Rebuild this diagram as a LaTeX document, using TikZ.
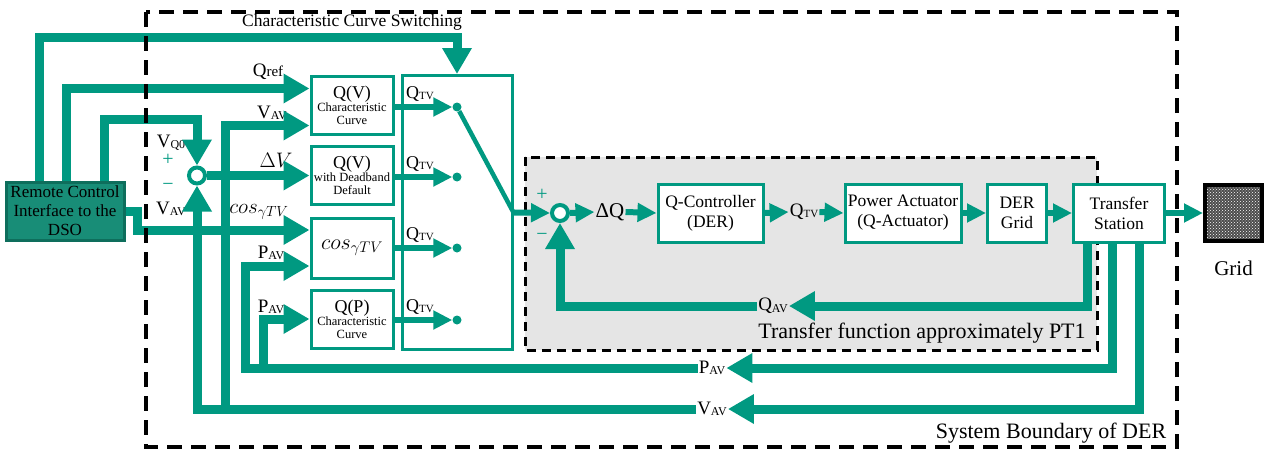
\documentclass[tikz,border=0pt]{standalone}
\usepackage{fix-cm}
\usepackage{fontspec}
\setmainfont{Liberation Serif}
\usetikzlibrary{arrows.meta,patterns}
\definecolor{der-teal}{RGB}{0,153,129}
\definecolor{remote-fill}{RGB}{24,141,119}
\definecolor{remote-line}{RGB}{14,110,92}
\newcommand{\lowsub}[1]{\raisebox{-1.5pt}{\fontsize{12}{12}\selectfont #1}}
\newcommand{\tinysub}[1]{\raisebox{-1pt}{\fontsize{11}{11}\selectfont #1}}
\tikzset{
    teal-box/.style = {draw=der-teal, fill=white, line width=3pt, rectangle, inner sep=0pt, align=center},
    remote-box/.style = {draw=remote-line, fill=remote-fill, line width=3pt, rectangle, inner sep=0pt, align=center, font=\fontsize{17}{19}\selectfont},
    chain-box/.style = {teal-box, minimum height=58pt, font=\fontsize{17.5}{20}\selectfont},
    curve-box/.style = {teal-box, minimum width=82pt, minimum height=58pt, font=\fontsize{12.5}{13}\selectfont},
    sum-node/.style = {circle, draw=der-teal, fill=white, line width=4pt, minimum size=16pt, inner sep=0pt},
    sw-dot/.style = {circle, fill=der-teal, minimum size=9pt, inner sep=0pt},
    band/.style = {draw=der-teal, line width=9pt},
    band-arrow/.style = {band, -{Triangle[width=28pt,length=26pt]}},
    thin-arrow/.style = {draw=der-teal, line width=6pt, -{Triangle[width=18pt,length=19pt]}},
    sig-label/.style = {inner sep=1pt, font=\fontsize{19}{20}\selectfont},
    qtv-label/.style = {inner sep=0pt, font=\fontsize{18}{18}\selectfont},
    sign-label/.style = {text=der-teal, inner sep=0pt, font=\fontsize{20}{20}\selectfont},
    area-label/.style = {inner sep=0pt, font=\fontsize{22}{22}\selectfont},
}

\begin{document}
\begin{tikzpicture}[x=1pt,y=-1pt]
\useasboundingbox (0,0) rectangle (1269,455);
% shaded PT1 part
\fill[black!10] (525,157) rectangle (1097,350);
\draw[line width=3pt, dash pattern=on 9pt off 6pt] (525,157) rectangle (1097,350);

% blocks
\node[remote-box, minimum width=118pt, minimum height=58pt] (remote) at (65,211) {Remote Control\\Interface to the\\DSO};
\node[curve-box] (qv) at (352,105.5) {{\fontsize{18}{18}\selectfont Q(V)}\\Characteristic\\Curve};
\node[curve-box] (qvd) at (352,175.5) {{\fontsize{18}{18}\selectfont Q(V)}\\with Deadband\\Default};
\node[curve-box, minimum height=60pt] (cosb) at (352,248) {\fontsize{22}{22}\selectfont $cos_{\gamma TV}$};
\node[curve-box] (qp) at (352,319) {{\fontsize{18}{18}\selectfont Q(P)}\\Characteristic\\Curve};
\node[teal-box, minimum width=110pt, minimum height=274pt] (sw) at (457,212.5) {};
\node[chain-box, minimum width=105pt] (qc) at (710.5,213) {Q-Controller\\(DER)};
\node[chain-box, minimum width=116pt] (pa) at (903,213) {Power Actuator\\(Q-Actuator)};
\node[chain-box, minimum width=59pt] (dg) at (1017,213) {DER\\Grid};
\node[chain-box, minimum width=91pt] (ts) at (1119,213) {Transfer\\Station};
\node[draw=black, line width=4pt, minimum width=57pt, minimum height=56pt, pattern=crosshatch dots, pattern color=white, preaction={fill=black!70}] (grid) at (1233.5,213) {};
\node[area-label, font=\fontsize{21}{21}\selectfont] (grid-lbl) at (1233.5,268) {Grid};

% sums and switch contacts
\node[sum-node] (sl) at (197,175.5) {};
\node[sum-node] (sr) at (560,213) {};
\node[sw-dot] (d1) at (457,107) {};
\node[sw-dot] (d2) at (457,177) {};
\node[sw-dot] (d3) at (457,248) {};
\node[sw-dot] (d4) at (457,320) {};

% corner points
\coordinate (r-ccs) at ([xshift=34.5pt]remote.north west);
\coordinate (r-qref) at ([xshift=61.5pt]remote.north west);
\coordinate (r-vq0) at ([xshift=100pt]remote.north west);
\coordinate (ccs) at (457,37.5);
\coordinate (vq0) at (197,119);
\coordinate (qv-in1) at ([yshift=17pt]qv.west);
\coordinate (qv-in2) at ([yshift=-20pt]qv.west);
\coordinate (cos-in1) at ([yshift=18pt]cosb.west);
\coordinate (cos-in2) at ([yshift=-18pt]cosb.west);
\coordinate (ts-q) at ([xshift=15pt]ts.south west);
\coordinate (ts-p) at ([xshift=40pt]ts.south west);
\coordinate (ts-v) at ([xshift=67pt]ts.south west);
\coordinate (p-br1) at (245,368);
\coordinate (p-br2) at (263.5,368);
\coordinate (v-br) at (225,409);

% signal labels
\node[sig-label] (qav) at (773,306) {Q\lowsub{AV}};
\node[sig-label] (pav) at (712,368) {P\lowsub{AV}};
\node[sig-label] (vav) at (712,409) {V\lowsub{AV}};
\node[sig-label, font=\fontsize{21}{21}\selectfont] (dq) at (610,212) {ΔQ};
\node[sig-label] (qtv) at (804,212) {Q\tinysub{TV}};
\node[sig-label] (qref-lbl) at (268,72) {Q{\fontsize{15}{15}\selectfont ref}};
\node[sig-label] (vav-lbl1) at (272,113) {V\lowsub{AV}};
\node[sig-label, font=\fontsize{21}{21}\selectfont] (dv-lbl) at (276,160) {$\Delta V$};
\node[sig-label, font=\fontsize{21}{21}\selectfont] (cos-lbl) at (259,212) {$cos_{\gamma TV}$};
\node[sig-label] (pav-lbl1) at (271,253) {P\lowsub{AV}};
\node[sig-label] (pav-lbl2) at (271,307) {P\lowsub{AV}};
\node[sig-label] (vq0-lbl) at (171,143) {V\lowsub{Q0}};
\node[sig-label] (vav-lbl2) at (171,209) {V\lowsub{AV}};
\node[sign-label] (plus-l) at (168,160) {+};
\node[sign-label] (minus-l) at (168,187) {−};
\node[sign-label] (plus-r) at (542,195) {+};
\node[sign-label] (minus-r) at (542,237) {−};
\foreach \dot/\n in {d1/1, d2/2, d3/3, d4/4}
    \node[qtv-label] (qtv-\n) at ([xshift=-37pt, yshift=13pt]\dot) {Q\tinysub{TV}};

% inputs from the DSO interface
\draw[band-arrow] (r-ccs) |- (ccs) -- (sw.north);
\draw[band-arrow] (r-qref) |- (qv-in1);
\draw[band-arrow] (r-vq0) |- (vq0) -- (sl.north);
\draw[band-arrow] (remote.east) -- ++(12,0) |- (cos-in1);
\draw[band-arrow] (sl.east) -- (qvd.west);

% switch
\foreach \src/\dst in {qv/d1, qvd/d2, cosb/d3, qp/d4}
    \draw[thin-arrow] (\src.east |- \dst) -- (\dst.west);
\draw[der-teal, line width=4.5pt] (d1) -- (sw.east);

% control chain
\draw[thin-arrow] (sw.east) -- (sr.west);
\draw[thin-arrow] (sr.east) -- (dq.west);
\draw[thin-arrow] (dq.east) -- (qc.west);
\draw[thin-arrow] (qc.east) -- (qtv.west);
\draw[thin-arrow] (qtv.east) -- (pa.west);
\draw[thin-arrow] (pa.east) -- (dg.west);
\draw[thin-arrow] (dg.east) -- (ts.west);
\draw[thin-arrow] (ts.east) -- (grid.west);

% measured values back
\draw[band-arrow] (ts-q) |- (qav.east);
\draw[band-arrow] (qav.west) -| (sr.south);
\draw[band-arrow] (ts-p) |- (pav.east);
\draw[band-arrow] (pav.west) -- (p-br1) |- (cos-in2);
\draw[band-arrow] (p-br2) |- (qp.west);
\draw[band-arrow] (ts-v) |- (vav.east);
\draw[band-arrow] (vav.west) -| (sl.south);
\draw[band-arrow] (v-br) |- (qv-in2);

% system boundary
\draw[line width=3.5pt, dash pattern=on 15pt off 9pt] (146,12) rectangle (1177,447);
\node[area-label, font=\fontsize{17.5}{18}\selectfont] (ccs-lbl) at (352,22) {Characteristic Curve Switching};
\node[area-label] (pt1-lbl) at (922,333) {Transfer function approximately PT1};
\node[area-label] (sys-lbl) at (1051,433) {System Boundary of DER};
\end{tikzpicture}
\end{document}
